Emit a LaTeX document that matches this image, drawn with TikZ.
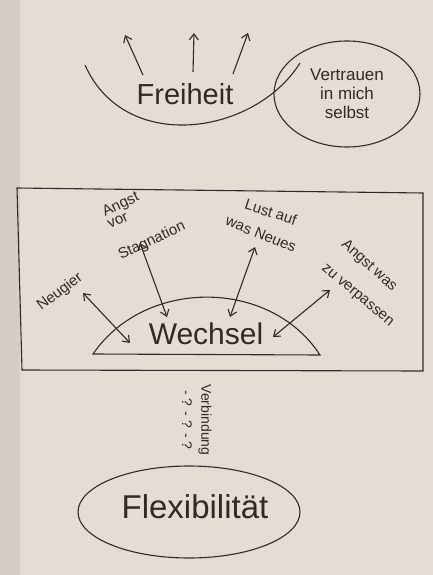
\documentclass[tikz,border=0pt]{standalone}
\usepackage{fontspec}
\setmainfont{Liberation Sans}
\usepackage{tikz}
\usetikzlibrary{arrows.meta}
\usetikzlibrary{shapes}
\definecolor{paper}{RGB}{229,221,212}
\definecolor{paper_dark}{RGB}{214,205,196}
\definecolor{ink}{RGB}{50,42,38}

\begin{document}
\begin{tikzpicture}[x=1pt,y=-1pt,line width=1.1pt,color=ink,>={Straight Barb[length=6pt,width=9pt]}]
    \tikzstyle{big}=[font=\fontsize{29}{33}\selectfont,text=ink,inner sep=0pt]
    \tikzstyle{note}=[font=\fontsize{15}{17}\selectfont,text=ink,inner sep=0pt]
    \tikzstyle{oval}=[draw=ink,ellipse,inner sep=0pt,align=center,text=ink]

    % paper
    \fill[paper] (0,0) rectangle (433,575);
    \fill[paper_dark] (0,0) rectangle (20,575);
    \useasboundingbox (0,0) rectangle (433,575);

    % top: Freiheit
    \coordinate (arcL) at (85,65);
    \coordinate (arcR) at (300,63);
    \draw (arcL) .. controls (125,155) and (255,135) .. (arcR);
    \node[big] (freiheit) at (185,94) {Freiheit};
    \coordinate (fr1) at (143,75);  \coordinate (up1) at (125,35);
    \coordinate (fr2) at (193,72);  \coordinate (up2) at (194,33);
    \coordinate (fr3) at (233,74);  \coordinate (up3) at (248,33);
    \path[->]
     (fr1) edge (up1)
     (fr2) edge (up2)
     (fr3) edge (up3);
    \node[oval,minimum width=146pt,minimum height=106pt,font=\fontsize{17}{19}\selectfont]
      (vertrauen) at (347,94) {Vertrauen\\in mich\\selbst};

    % middle: Wechsel
    \coordinate (boxNW) at (17,188);
    \coordinate (boxNE) at (423,193);
    \coordinate (boxSE) at (423,371);
    \coordinate (boxSW) at (22,370);
    \draw (boxNW) -- (boxNE) -- (boxSE) -- (boxSW) -- cycle;
    \coordinate (domeL) at (93,354);
    \coordinate (domeR) at (320,355);
    \draw (domeL) .. controls (145,278) and (270,278) .. (domeR) -- cycle;
    \node[big,font=\fontsize{30}{34}\selectfont] (wechsel) at (206,334) {Wechsel};

    \node[note,rotate=37] (neugier) at (60,292) {Neugier};
    \node[note,rotate=25] (angst1) at (121,205) {Angst};
    \node[note,rotate=25] (vor) at (118,221) {vor};
    \node[note,rotate=25] (stagnation) at (152,241) {Stagnation};
    \node[note,rotate=-18] (lust) at (271,212) {Lust auf};
    \node[note,rotate=-22] (neues) at (261,234) {was Neues};
    \node[note,rotate=-42] (angst2) at (369,266) {Angst was};
    \node[note,rotate=-40] (verpassen) at (357,296) {zu verpassen};

    \coordinate (n1) at (83,293);   \coordinate (w1) at (130,343);
    \coordinate (n2) at (140,243);  \coordinate (w2) at (167,317);
    \coordinate (n3) at (255,247);  \coordinate (w3) at (230,317);
    \coordinate (n4) at (330,290);  \coordinate (w4) at (273,337);
    \path[<->]
     (n1) edge (w1)
     (n2) edge (w2)
     (n3) edge (w3)
     (n4) edge (w4);

    % bottom: Flexibilitaet
    \node[note,rotate=-90,font=\fontsize{14}{16}\selectfont] (verbindung) at (205,420) {Verbindung};
    \node[note,rotate=-90,font=\fontsize{14}{16}\selectfont] (fragen) at (187,420) {- ? - ? - ?};
    \node[oval,minimum width=222pt,minimum height=92pt] (flexrand) at (189,512) {};
    \node[big,font=\fontsize{33}{37}\selectfont] (flex) at (195,507) {Flexibilität};
\end{tikzpicture}
\end{document}
